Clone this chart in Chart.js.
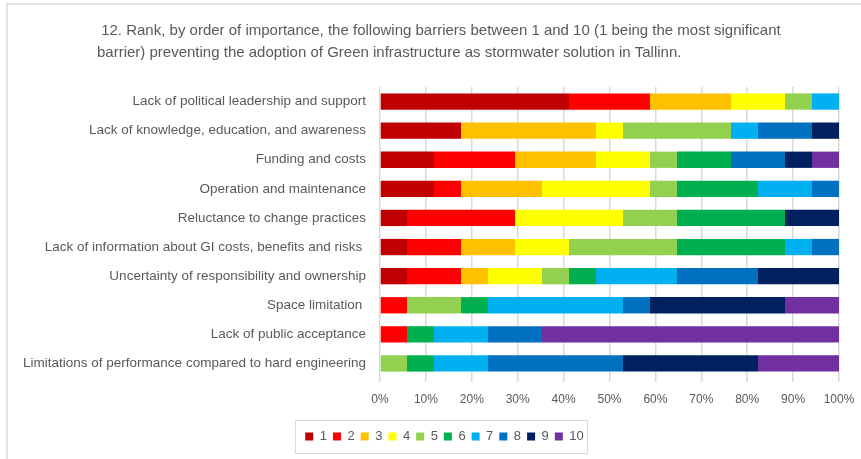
<!DOCTYPE html>
<html>
<head>
<meta charset="utf-8">
<script src="https://cdn.jsdelivr.net/npm/chart.js@4/dist/chart.umd.min.js"></script>
<style>
  html, body { margin: 0; padding: 0; background: #ffffff; }
  #wrap { width: 861px; height: 459px; position: relative; }
</style>
</head>
<body>
<div id="wrap"><canvas id="c" width="861" height="459"></canvas></div>
<script>
// Barriers, listed top to bottom
const barriers = [
  "Lack of political leadership and support",
  "Lack of knowledge, education, and awareness",
  "Funding and costs",
  "Operation and maintenance",
  "Reluctance to change practices",
  "Lack of information about GI costs, benefits and risks ",
  "Uncertainty of responsibility and ownership",
  "Space limitation ",
  "Lack of public acceptance",
  "Limitations of performance compared to hard engineering"
];

// Number of respondents giving each rank, per barrier (same order as above)
const rank1  = [7, 3, 2, 2, 1, 1, 1, 0, 0, 0];
const rank2  = [3, 0, 3, 1, 4, 2, 2, 1, 1, 0];
const rank3  = [3, 5, 3, 3, 0, 2, 1, 0, 0, 0];
const rank4  = [2, 1, 2, 4, 4, 2, 2, 0, 0, 0];
const rank5  = [1, 4, 1, 1, 2, 4, 1, 2, 0, 1];
const rank6  = [0, 0, 2, 3, 4, 4, 1, 1, 1, 1];
const rank7  = [1, 1, 0, 2, 0, 1, 3, 5, 2, 2];
const rank8  = [0, 2, 2, 1, 0, 1, 3, 1, 2, 5];
const rank9  = [0, 1, 1, 0, 2, 0, 3, 5, 0, 5];
const rank10 = [0, 0, 1, 0, 0, 0, 0, 2, 11, 3];

const rankLabels = ["1", "2", "3", "4", "5", "6", "7", "8", "9", "10"];
const rankColors = ["#C00000", "#FF0000", "#FFC000", "#FFFF00", "#92D050",
                    "#00B050", "#00B0F0", "#0070C0", "#002060", "#7030A0"];
const xTicks = [0, 10, 20, 30, 40, 50, 60, 70, 80, 90, 100];

const titleLines = [
  " 12. Rank, by order of importance, the following barriers between 1 and 10 (1 being the most significant",
  "barrier) preventing the adoption of Green infrastructure as stormwater solution in Tallinn."
];

const rankSeries = [rank1, rank2, rank3, rank4, rank5, rank6, rank7, rank8, rank9, rank10];
// respondents per barrier, used to turn counts into shares of 100%
const totals = barriers.map((_, i) => rankSeries.reduce((s, r) => s + r[i], 0));

const FONT = "'Liberation Sans', Arial, sans-serif";
const GREY_TEXT = "#595959";

const datasets = rankSeries.map((counts, k) => ({
  label: rankLabels[k],
  data: counts.map((v, i) => v / totals[i] * 100),
  backgroundColor: rankColors[k],
  borderWidth: 0,
  categoryPercentage: 1.0,
  barPercentage: 0.56
}));

// Frame, title and legend outline
const decorations = {
  id: "decorations",
  afterLayout(chart) {
    const lg = chart.legend;
    if (lg) { lg.left += 21; lg.right += 21; }
  },
  beforeDraw(chart) {
    const ctx = chart.ctx;
    ctx.save();
    ctx.fillStyle = "#ffffff";
    ctx.fillRect(0, 0, chart.width, chart.height);
    ctx.strokeStyle = "#d9d9d9";
    ctx.lineWidth = 1.5;
    ctx.beginPath();
    ctx.moveTo(7, chart.height);
    ctx.lineTo(7, 4);
    ctx.lineTo(chart.width, 4);
    ctx.stroke();
    ctx.fillStyle = GREY_TEXT;
    ctx.font = "15px " + FONT;
    ctx.textBaseline = "middle";
    ctx.textAlign = "left";
    titleLines.forEach((t, i) => ctx.fillText(t, 97, 31 + i * 22));
    ctx.restore();
  },
  afterDraw(chart) {
    const lg = chart.legend;
    if (!lg || !lg.legendHitBoxes || !lg.legendHitBoxes.length) return;
    const hb = lg.legendHitBoxes;
    const x0 = Math.min(...hb.map(b => b.left)) - 10;
    const x1 = Math.max(...hb.map(b => b.left + b.width)) + 3;
    const cy = hb[0].top + hb[0].height / 2;
    const ctx = chart.ctx;
    ctx.save();
    ctx.strokeStyle = "#d9d9d9";
    ctx.lineWidth = 1;
    ctx.strokeRect(Math.round(x0) + 0.5, Math.round(cy - 16.5) + 0.5, Math.round(x1 - x0), 33);
    ctx.restore();
  }
};

new Chart(document.getElementById("c"), {
  type: "bar",
  data: { labels: barriers, datasets },
  plugins: [decorations],
  options: {
    indexAxis: "y",
    responsive: false,
    animation: false,
    devicePixelRatio: 1,
    layout: { padding: { top: 87, left: 8, right: 22, bottom: 6 } },
    scales: {
      x: {
        stacked: true,
        min: 0,
        max: 100,
        afterBuildTicks(scale) { scale.ticks = xTicks.map(v => ({ value: v })); },
        afterFit(scale) {
          scale.height = 46;
          scale.paddingLeft = 0;
          scale.paddingRight = 0;
        },
        border: { display: false },
        grid: { color: "#d9d9d9", lineWidth: 1.5, tickLength: 4, drawTicks: true },
        ticks: {
          padding: 10,
          color: GREY_TEXT,
          font: { family: FONT, size: 12 },
          callback: v => v + "%"
        }
      },
      y: {
        stacked: true,
        afterFit(scale) { scale.width = 372; },
        border: { display: false },
        grid: { display: false, drawTicks: false },
        ticks: {
          padding: 14,
          color: GREY_TEXT,
          autoSkip: false,
          font: { family: FONT, size: 13.5 }
        }
      }
    },
    plugins: {
      title: { display: false },
      tooltip: { enabled: false },
      legend: {
        display: true,
        position: "bottom",
        labels: {
          boxWidth: 8,
          boxHeight: 8,
          padding: 6,
          color: GREY_TEXT,
          font: { family: FONT, size: 13 }
        }
      }
    }
  }
});
</script>
</body>
</html>
